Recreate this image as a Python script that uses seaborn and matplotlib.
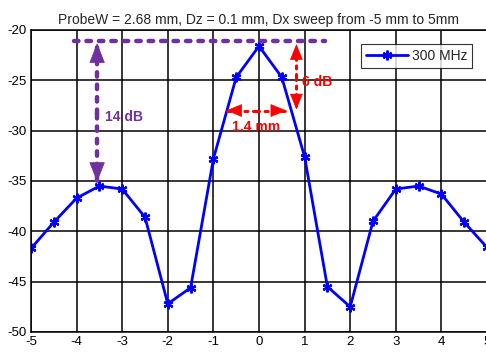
import numpy as np
import matplotlib
matplotlib.use("Agg")
import matplotlib.pyplot as plt
import pandas as pd
import seaborn as sns

# data
dx_mm = [-5, -4.5, -4, -3.5, -3, -2.5, -2, -1.5, -1, -0.5, 0,
         0.5, 1, 1.5, 2, 2.5, 3, 3.5, 4, 4.5, 5]
level_db = [-41.7, -39.1, -36.7, -35.5, -35.8, -38.6, -47.2, -45.6, -32.8, -24.7, -21.6,
            -24.7, -32.6, -45.5, -47.5, -39.0, -35.8, -35.5, -36.3, -39.1, -41.6]
series_name = "300 MHz"
title_txt = "ProbeW = 2.68 mm, Dz = 0.1 mm, Dx sweep from -5 mm to 5mm"
x_ticks = list(range(-5, 6))
y_ticks = [-50, -45, -40, -35, -30, -25, -20]

df = pd.DataFrame({"Dx": dx_mm, "dB": level_db, "series": series_name})

sns.set_style("white")
plt.rcParams["font.family"] = ["Liberation Sans", "DejaVu Sans"]
plt.rcParams["font.size"] = 9.5
plt.rcParams["axes.unicode_minus"] = False

fig = plt.figure(figsize=(4.86, 3.54), dpi=100)
ax = fig.add_axes([31 / 486, 22 / 354, 456 / 486, 302 / 354])

sns.lineplot(data=df, x="Dx", y="dB", hue="series", palette=["#0000ff"],
             marker=(6, 2, 0), markersize=7, markeredgewidth=1.6,
             markeredgecolor="#0000ff", linewidth=2, ax=ax)

ax.set_xlim(-5, 5)
ax.set_ylim(-50, -20)
ax.set_xticks(x_ticks)
ax.set_yticks(y_ticks)
ax.set_xlabel("")
ax.set_ylabel("")
ax.grid(True, color="black", linewidth=1.1)
ax.set_axisbelow(True)
ax.tick_params(direction="in", length=3, colors="black", labelsize=9.5, pad=3)
for s in ax.spines.values():
    s.set_color("black")
    s.set_linewidth(1.1)
ax.set_title(title_txt, fontsize=10, pad=4)

leg = ax.legend(loc="upper right", bbox_to_anchor=(0.983, 0.975), frameon=True,
                fancybox=False, edgecolor="black", fontsize=10,
                handlelength=3.0, borderpad=0.35, handletextpad=0.3)
leg.get_frame().set_linewidth(0.8)

purple = "#7030a0"
red = "#ff0000"
dots = (0, (1.0, 1.8))


def dashed_arrow(x0, y0, x1, y1, color, lw, hl, hw):
    # dotted shaft, solid head at (x1, y1)
    ax.plot([x0, x1], [y0, y1], color=color, linestyle=dots, linewidth=lw,
            dash_capstyle="round", zorder=5)
    ax.annotate("", xy=(x1, y1), xytext=(x0 + (x1 - x0) * 0.9, y0 + (y1 - y0) * 0.9),
                arrowprops=dict(arrowstyle="-|>,head_length=%s,head_width=%s" % (hl, hw),
                                color=color, lw=0.5, shrinkA=0, shrinkB=0), zorder=6)


# 14 dB annotation
ax.plot([-4.05, 1.45], [-21.1, -21.1], color=purple, linestyle=dots,
        linewidth=3.2, dash_capstyle="round", zorder=4)
dashed_arrow(-3.55, -28.3, -3.55, -21.3, purple, 3.2, 1.4, 0.55)
dashed_arrow(-3.55, -28.3, -3.55, -35.1, purple, 3.2, 1.4, 0.55)
ax.text(-3.37, -28.6, "14 dB", color=purple, fontsize=10, fontweight="bold", va="center")

# 6 dB annotation
dashed_arrow(0.82, -24.7, 0.82, -21.4, red, 2.2, 1.1, 0.45)
dashed_arrow(0.82, -24.7, 0.82, -27.9, red, 2.2, 1.1, 0.45)
ax.text(0.95, -25.2, "6 dB", color=red, fontsize=10, fontweight="bold", va="center")

# 1.4 mm annotation
dashed_arrow(-0.06, -28.0, -0.72, -28.0, red, 2.2, 1.1, 0.45)
dashed_arrow(-0.06, -28.0, 0.6, -28.0, red, 2.2, 1.1, 0.45)
ax.text(-0.07, -29.6, "1.4 mm", color=red, fontsize=10, fontweight="bold",
        va="center", ha="center")

fig.savefig("out.png", dpi=100)
